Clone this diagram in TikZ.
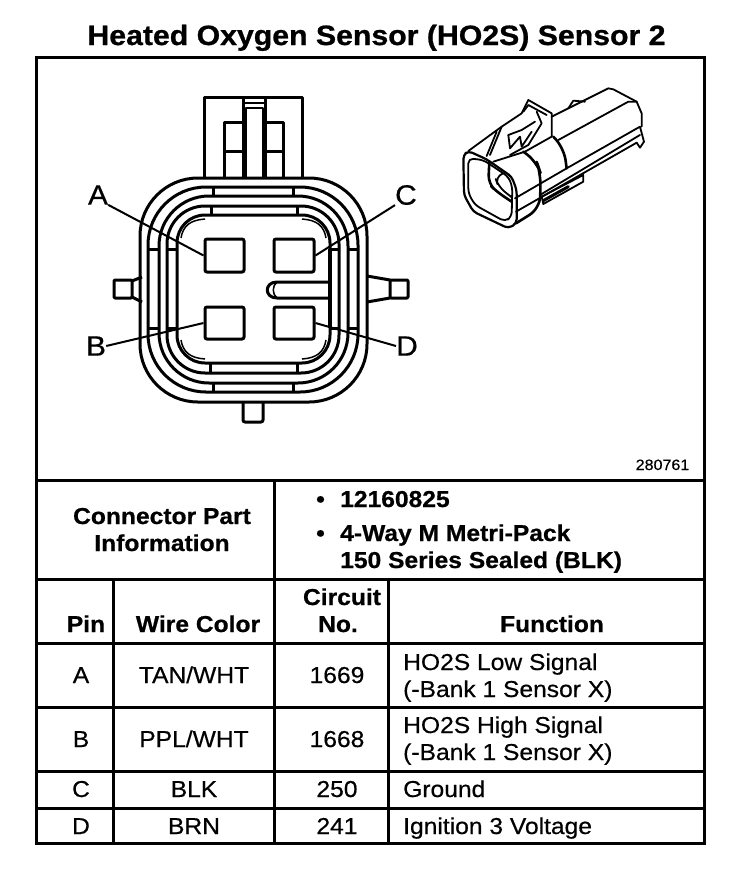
\documentclass[tikz,border=0pt]{standalone}
\usepackage{fontspec}
\usepackage{tikz}
\usetikzlibrary{positioning,calc}
\setmainfont{Liberation Sans}
\newfontfamily\plainfont[FakeStretch=1.07,FakeBold=0.5]{Liberation Sans}
\newfontfamily\headfont[FakeStretch=1.07,FakeBold=0.7]{Liberation Sans Bold}
\newfontfamily\titlefont[FakeStretch=1.08,FakeBold=0.8]{Liberation Sans Bold}
\newcommand{\tabsize}{\fontsize{23}{27}\selectfont}

\begin{document}
\begin{tikzpicture}[x=1pt,y=-1pt,
  gridline/.style={line width=3pt,line cap=rect},
  part/.style={line width=3pt,line join=round},
  thinpart/.style={line width=1.5pt,line join=round},
  sketch/.style={line width=1.8pt,line join=round,line cap=round},
  pinbox/.style={draw,line width=3pt,rounded corners=2pt,fill=white,inner sep=0pt},
  letter/.style={font=\plainfont\fontsize{28}{28}\selectfont,inner sep=0pt},
  leader/.style={line width=2pt},
  bolded/.style={font=\headfont\tabsize,inner sep=0pt,anchor=base},
  plain/.style={font=\plainfont\tabsize,inner sep=0pt,anchor=base},
  plainleft/.style={plain,anchor=base west},
  boldleft/.style={bolded,anchor=base west}]
\useasboundingbox (0,0) rectangle (752,876);

% title
\node[font=\titlefont\fontsize{28}{28}\selectfont,inner sep=0pt,anchor=base] (title) at (376.5,45) {Heated Oxygen Sensor (HO2S) Sensor 2};

% frame and table lines
\draw[gridline] (36,57) rectangle (704,843);
\foreach \yy in {480,579,643,707,771,808}
  \draw[gridline] (36,\yy) -- (704,\yy);
\draw[gridline] (274,480) -- (274,843);
\draw[gridline] (113,579) -- (113,843);
\draw[gridline] (388,579) -- (388,843);

% top latch
\draw[part] (204,178) -- (204,97) -- (302,97) -- (302,178);
\draw[part] (224,178) -- (224,122) -- (243,122);
\draw[part] (224,151) -- (243,151);
\draw[part] (283,178) -- (283,122) -- (265,122);
\draw[part] (265,151) -- (283,151);
\draw[part] (243,97) -- (243,178);
\draw[part] (265,97) -- (265,178);
\draw[thinpart] (246,178) -- (246,108) -- (263,108) -- (263,178);
\draw[thinpart] (243,103) -- (265,103);

% side and bottom ears
\draw[part,rounded corners=1pt] (132,280) rectangle (114,298);
\draw[part] (142,277) -- (132,281);
\draw[part] (142,302) -- (132,297);
\draw[part,rounded corners=1pt] (390,280) -- (408,280) -- (408,298) -- (390,298) -- cycle;
\draw[part] (367,276) -- (390,280);
\draw[part] (367,302) -- (390,298);
\draw[part,rounded corners=2pt] (243,402) -- (243,422) -- (263,422) -- (263,402);

% seal rings
\foreach \xa/\ya/\xb/\yb/\rad in {140/178/367/402/58,148/187/358/392/58,159/196/348/383/50,167/206/339/373/38,177/215/330/363/28}
  \draw[part,rounded corners=\rad pt] (\xa,\ya) rectangle (\xb,\yb);
\draw[thinpart] (181,238) .. controls (183,226) and (190,220) .. (205,219);
\draw[thinpart] (326,238) .. controls (324,226) and (317,220) .. (302,219);
\draw[thinpart] (181,340) .. controls (183,352) and (190,358) .. (205,359);
\draw[thinpart] (326,340) .. controls (324,352) and (317,358) .. (302,359);

% notches
\foreach \xl/\xr/\yt/\yb in {213/293/187/196,211/297/206/215,210/297/363/373,213/293/383/392}{
  \draw[part] (\xl,\yt) -- (\xl,\yb);
  \draw[part] (\xr,\yt) -- (\xr,\yb);
}
% side ribs
\foreach \xa/\xb in {149/159,167/177,330/339,348/358}{
  \draw[part] (\xa,249) -- (\xb,249);
  \draw[part] (\xa,328) -- (\xb,328);
}
\draw[line width=4pt] (330,249) -- (330,328);

% key slot
\draw[part] (330,282) -- (277,282) .. controls (264,282) and (264,298) .. (277,298) -- (330,298);
\draw[thinpart] (277,282) .. controls (272,286) and (272,294) .. (277,298);

% pins
\node[pinbox,minimum width=39pt,minimum height=33pt] (pinA) at (224.5,255.5) {};
\node[pinbox,minimum width=40pt,minimum height=33pt] (pinC) at (294,255.5) {};
\node[pinbox,minimum width=39pt,minimum height=32pt] (pinB) at (224.5,323) {};
\node[pinbox,minimum width=40pt,minimum height=32pt] (pinD) at (294,323) {};

% pin letters
\node[letter] (lblA) at (98,195) {A};
\node[letter] (lblB) at (96,346) {B};
\node[letter] (lblC) at (406,195) {C};
\node[letter] (lblD) at (407,346) {D};
\draw[leader] (lblA.south east) -- (pinA.west);
\draw[leader] (lblB.east) -- (pinB.west);
\draw[leader] (lblC.south west) -- (pinC.east);
\draw[leader] (lblD.west) -- (pinD.east);

% connector sketch
\begin{scope}[xshift=440pt,yshift=-80pt,x=0.3333pt,y=-0.3333pt]
\draw[sketch,line width=2.2pt,rounded corners=4pt] (70,225) -- (85,213) -- (140,238) -- (215,290) -- (230,330) -- (230,430) -- (205,445) -- (100,395) -- (72,345) -- cycle;
\draw[sketch,rounded corners=5pt] (85,235) -- (130,240) -- (205,290) -- (217,320) -- (215,410) -- (195,425) -- (105,375) -- (85,340) -- cycle;
\draw[sketch,line width=2.6pt,rounded corners=8pt] (148,245) -- (145,310) -- (170,335) -- (215,365);
\draw[sketch,rounded corners=8pt] (190,280) -- (165,290) -- (175,320) -- (215,352);
\draw[sketch] (85,213) -- (185,140) -- (245,100) -- (265,60) -- (335,100) -- (335,170) -- (255,215) -- (160,245);
\draw[sketch] (250,95) -- (265,75) -- (320,105);
\draw[sketch] (185,140) -- (150,225);
\draw[sketch] (170,155) -- (140,228);
\draw[sketch] (290,95) -- (305,130) -- (265,195) -- (210,225);
\draw[sketch] (205,165) -- (245,150) -- (285,125);
\draw[sketch] (205,165) -- (210,205) -- (240,170) -- (245,200) -- (275,155);
\draw[sketch] (335,110) -- (505,25) -- (520,28) -- (590,65) -- (605,100) -- (605,140);
\draw[sketch] (355,180) -- (565,65) -- (590,65);
\draw[sketch] (385,85) -- (400,62) -- (435,65);
\draw[sketch] (225,355) -- (380,265) -- (600,140) -- (612,185) -- (600,203) -- (590,188);
\draw[sketch] (228,395) -- (590,188);
\draw[sketch] (300,345) -- (600,165);
\draw[sketch,line width=2.6pt,rounded corners=12pt] (250,215) -- (290,245) -- (302,280) -- (300,385) -- (228,430);
\draw[sketch,line width=2.6pt,rounded corners=12pt] (340,170) -- (372,205) -- (380,265);
\draw[sketch] (305,350) -- (430,285) -- (430,305) -- (310,372) -- cycle;
\draw[sketch,line width=3pt] (310,362) -- (385,320);
\end{scope}

\node[font=\plainfont\fontsize{15}{15}\selectfont,inner sep=0pt,anchor=base] (partno) at (662.5,470) {280761};

% part information
\node[bolded] (parthead) at (162,524) {Connector Part};
\node[bolded] (parthead2) at (162,551) {Information};
\node[boldleft] (bulla) at (316,507) {•};
\node[boldleft] (numa) at (340,507) {12160825};
\node[boldleft] (bullb) at (316,541) {•};
\node[boldleft] (typea) at (340,541) {4-Way M Metri-Pack};
\node[boldleft] (typeb) at (340,568) {150 Series Sealed (BLK)};

% column heads
\node[bolded] (hpin) at (86,632) {Pin};
\node[bolded] (hwire) at (198,632) {Wire Color};
\node[bolded] (hcirc) at (342,605) {Circuit};
\node[bolded] (hno) at (338,632) {No.};
\node[bolded] (hfunc) at (552,632) {Function};

% rows
\foreach \yy/\pinname/\wire/\circ in {683/A/TAN\slash WHT/1669,747/B/PPL\slash WHT/1668,797/C/BLK/250,834/D/BRN/241}{
  \node[plain] (p\pinname) at (81,\yy) {\pinname};
  \node[plain] (w\pinname) at (194,\yy) {\wire};
  \node[plain] (c\pinname) at (337,\yy) {\circ};
}
\node[plainleft] (fa) at (403,670) {HO2S Low Signal};
\node[plainleft] (fax) at (403,697) {(-Bank 1 Sensor X)};
\node[plainleft] (fb) at (403,733) {HO2S High Signal};
\node[plainleft] (fbx) at (403,760) {(-Bank 1 Sensor X)};
\node[plainleft] (fc) at (403,797) {Ground};
\node[plainleft] (fd) at (403,834) {Ignition 3 Voltage};
\end{tikzpicture}
\end{document}
